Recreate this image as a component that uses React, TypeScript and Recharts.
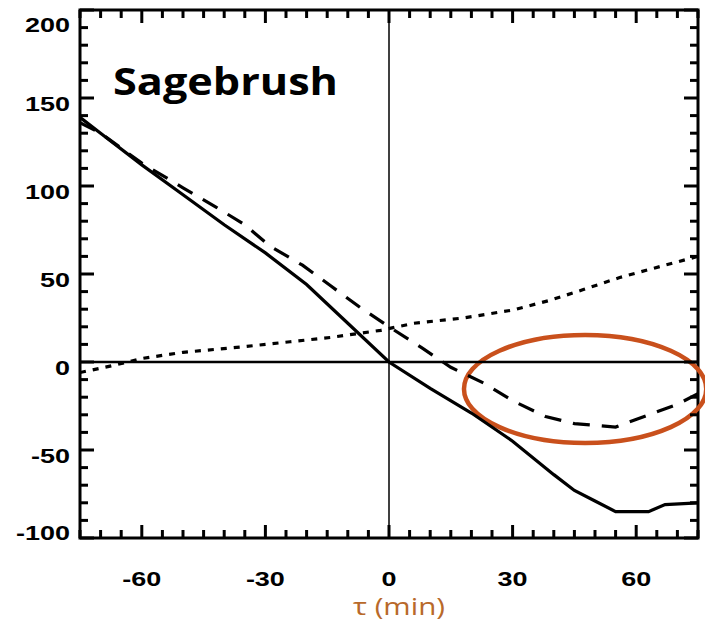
import React from 'react';
import { LineChart, Line, XAxis, YAxis, ReferenceLine, ReferenceArea } from 'recharts';

// tau (min) and values
const solidTau = [-75, -70, -60, -50, -40, -30, -20, -10, 0, 10, 20, 30, 40, 45, 50, 55, 63, 67, 75];
const solidVal = [139, 130, 112, 95, 78, 62, 44, 22, 0, -15, -29, -45, -64, -73, -79, -85, -85, -81, -80];

const dashTau = [-75, -70, -60, -50, -42, -35, -29, -21, -14, -7, 0, 8, 15, 23, 30, 38, 45, 55, 63, 70, 75];
const dashVal = [136, 130, 113, 99, 88, 78, 66, 55, 43, 31, 20, 8, -3, -12, -22, -31, -35, -37, -30, -24, -18];

const dotTau = [-75, -67, -60, -50, -36, -24, -14, -2, 6, 18, 30, 39, 47, 56, 67, 75];
const dotVal = [-6, -2, 2, 5.5, 8.5, 11.5, 14, 18, 22, 25, 29.5, 35, 41, 48, 55, 60];

const xTicks = [-75, -70, -65, -60, -55, -50, -45, -40, -35, -30, -25, -20, -15, -10, -5, 0, 5, 10, 15, 20, 25, 30, 35, 40, 45, 50, 55, 60, 65, 70, 75];
const xLabels = [-60, -30, 0, 30, 60];
const yTicks = [-100, -90, -80, -70, -60, -50, -40, -30, -20, -10, 0, 10, 20, 30, 40, 50, 60, 70, 80, 90, 100, 110, 120, 130, 140, 150, 160, 170, 180, 190, 200];
const yLabels = [-100, -50, 0, 50, 100, 150, 200];

const toPoints = (tau: number[], val: number[]) => tau.map((t, i) => ({ tau: t, v: val[i] }));

const labelWidth = (s: string) => s.replace('-', '').length * 15 + (s.startsWith('-') ? 9 : 0);
const labelFont = { fontFamily: '"Liberation Sans", Arial, sans-serif', fontWeight: 700, fontSize: 21 };

// plot box, in chart pixels
const PLOT = { left: 72, right: 690, top: 2, bottom: 530 };

const XTick = (props: any) => {
  const { x, payload } = props;
  const major = xLabels.includes(payload.value);
  const len = major ? 13 : 8;
  const s = String(payload.value);
  return (
    <g>
      <line x1={x} y1={PLOT.bottom} x2={x} y2={PLOT.bottom - len} stroke="#000" strokeWidth={3} />
      <line x1={x} y1={PLOT.top} x2={x} y2={PLOT.top + len} stroke="#000" strokeWidth={3} />
      {major && (
        <text x={x} y={PLOT.bottom + 40} textAnchor="middle" dominantBaseline="central" fill="#000"
          textLength={labelWidth(s)} lengthAdjust="spacingAndGlyphs" {...labelFont}>{s}</text>
      )}
    </g>
  );
};

const YTick = (props: any) => {
  const { y, payload } = props;
  const major = yLabels.includes(payload.value);
  const len = major ? 14 : 8;
  const s = String(payload.value);
  const shift = payload.value === 200 ? 14 : payload.value === -100 ? -6 : 5;
  return (
    <g>
      <line x1={PLOT.left} y1={y} x2={PLOT.left + len} y2={y} stroke="#000" strokeWidth={3} />
      <line x1={PLOT.right} y1={y} x2={PLOT.right - len} y2={y} stroke="#000" strokeWidth={3} />
      {major && (
        <text x={PLOT.left - 10} y={y + shift} textAnchor="end" dominantBaseline="central" fill="#000"
          textLength={labelWidth(s)} lengthAdjust="spacingAndGlyphs" {...labelFont}>{s}</text>
      )}
    </g>
  );
};

const Ellipse = (props: any) => {
  const { x, y, width, height } = props;
  return (
    <ellipse cx={x + width / 2} cy={y + height / 2} rx={width / 2} ry={height / 2}
      fill="none" stroke="#c9501c" strokeWidth={4.5} />
  );
};

export default function App() {
  return (
    <div style={{ position: 'relative', width: 705, height: 616 }}>
      <LineChart width={705} height={616} margin={{ top: 2, right: 15, left: 12, bottom: 0 }}>
        <XAxis dataKey="tau" type="number" domain={[-75, 75]} ticks={xTicks} interval={0}
          orientation="bottom" height={86} tickSize={0} tickMargin={0} tickLine={false}
          axisLine={false} allowDataOverflow tick={(p: any) => <XTick {...p} />} />
        <YAxis type="number" domain={[-100, 200]} ticks={yTicks} interval={0}
          orientation="left" width={60} tickSize={0} tickMargin={0} tickLine={false}
          axisLine={false} allowDataOverflow tick={(p: any) => <YTick {...p} />} />
        <ReferenceLine x={0} stroke="#000" strokeWidth={1.5} />
        <ReferenceLine y={0} stroke="#000" strokeWidth={2.5} />
        <Line data={toPoints(dotTau, dotVal)} dataKey="v" type="linear"
          stroke="#000" strokeWidth={3.2} strokeDasharray="6 7" dot={false} isAnimationActive={false} />
        <Line data={toPoints(dashTau, dashVal)} dataKey="v" type="linear"
          stroke="#000" strokeWidth={3.2} strokeDasharray="17 12" dot={false} isAnimationActive={false} />
        <Line data={toPoints(solidTau, solidVal)} dataKey="v" type="linear"
          stroke="#000" strokeWidth={3.2} dot={false} isAnimationActive={false} />
        <ReferenceArea x1={-75} x2={75} y1={-100} y2={200} fill="none" fillOpacity={0}
          stroke="#000" strokeWidth={3} ifOverflow="visible" />
        <ReferenceArea x1={18.2} x2={77} y1={15.4} y2={-46}
          ifOverflow="visible" shape={(p: any) => <Ellipse {...p} />} />
      </LineChart>
      <svg width={705} height={616} style={{ position: 'absolute', left: 0, top: 0, pointerEvents: 'none' }}>
        <text x={105} y={87} fontFamily='"Open Sans", sans-serif' fontWeight={700} fontSize={38}
          textLength={225} lengthAdjust="spacingAndGlyphs" fill="#000">Sagebrush</text>
        <text x={391} y={607} textAnchor="middle" fontFamily='"Open Sans", sans-serif' fontSize={23}
          textLength={92} lengthAdjust="spacingAndGlyphs" fill="#b8692a">τ (min)</text>
      </svg>
    </div>
  );
}
